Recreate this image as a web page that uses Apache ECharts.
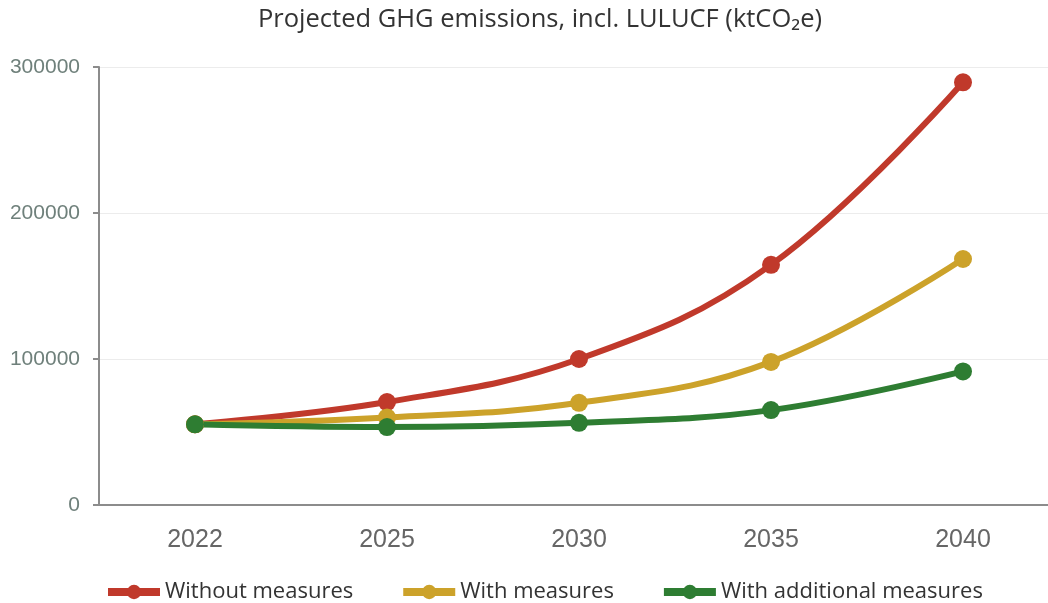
<!DOCTYPE html>
<html>
<head>
    <meta charset="utf-8">
    <script src="https://cdn.jsdelivr.net/npm/echarts@6/dist/echarts.min.js"></script>
    <style>
        html, body { margin: 0; padding: 0; background: #fff; overflow: hidden; }
    </style>
</head>
<body>
<!-- 比窗口略宽，最后一个类目的右半边被裁掉（与原图一致） -->
<div id="main" style="width: 1060px;height:603px;"></div>
<script type="text/javascript">
    // 数据
    const years = ['2022', '2025', '2030', '2035', '2040'];
    const withoutMeasures = [55300, 70500, 100000, 164500, 289500];
    const withMeasures = [55300, 60000, 70000, 98000, 168500];
    const withAdditional = [55300, 53400, 56300, 65000, 91500];
    const yTicks = [0, 100000, 200000, 300000];

    const names = ['Without measures', 'With measures', 'With additional measures'];
    const colors = ['#c0392b', '#cca22a', '#2e7d32'];

    const myChart = echarts.init(document.getElementById('main'));

    function lineSeries(name, data, color) {
        return {
            name: name,
            type: 'line',
            data: data,
            smooth: 0.4,
            symbol: 'circle',
            symbolSize: 18,
            lineStyle: {width: 6, color: color},
            itemStyle: {color: color}
        };
    }

    const option = {
        animation: false,
        title: {
            text: 'Projected GHG emissions, incl. LULUCF (ktCO₂e)',
            left: 253,
            top: 2,
            textStyle: {fontFamily: 'Open Sans', fontSize: 25.5, fontWeight: 'normal', color: '#333'}
        },
        legend: {
            bottom: -5,
            left: 99,
            itemWidth: 52,
            itemHeight: 18,
            itemGap: 46,
            textStyle: {fontFamily: 'Open Sans', fontSize: 22, color: '#333'},
            data: names.map(function (n, i) {
                return {name: n, lineStyle: {width: 8, color: colors[i]}};
            })
        },
        grid: {left: 99, top: 67, right: 1, height: 438},
        xAxis: {
            type: 'category',
            data: years,
            boundaryGap: true,
            axisLine: {lineStyle: {color: '#8c8c8c', width: 2}},
            axisTick: {length: 8, lineStyle: {color: '#8c8c8c', width: 2}},
            axisLabel: {fontFamily: 'Liberation Sans', fontSize: 25, color: '#666', margin: 23}
        },
        yAxis: {
            type: 'value',
            min: yTicks[0],
            max: yTicks[yTicks.length - 1],
            interval: 100000,
            axisLine: {show: true, lineStyle: {color: '#8c8c8c', width: 2}},
            axisTick: {show: true, length: 6, lineStyle: {color: '#8c8c8c', width: 2}},
            axisLabel: {fontFamily: 'Liberation Sans', fontSize: 21, color: '#6f807b', margin: 19,
                formatter: function (v) { return String(v); }},
            splitLine: {lineStyle: {color: '#ececec', width: 1}}
        },
        series: [
            lineSeries(names[0], withoutMeasures, colors[0]),
            lineSeries(names[1], withMeasures, colors[1]),
            lineSeries(names[2], withAdditional, colors[2])
        ]
    };

    myChart.setOption(option);
</script>
</body>
</html>
